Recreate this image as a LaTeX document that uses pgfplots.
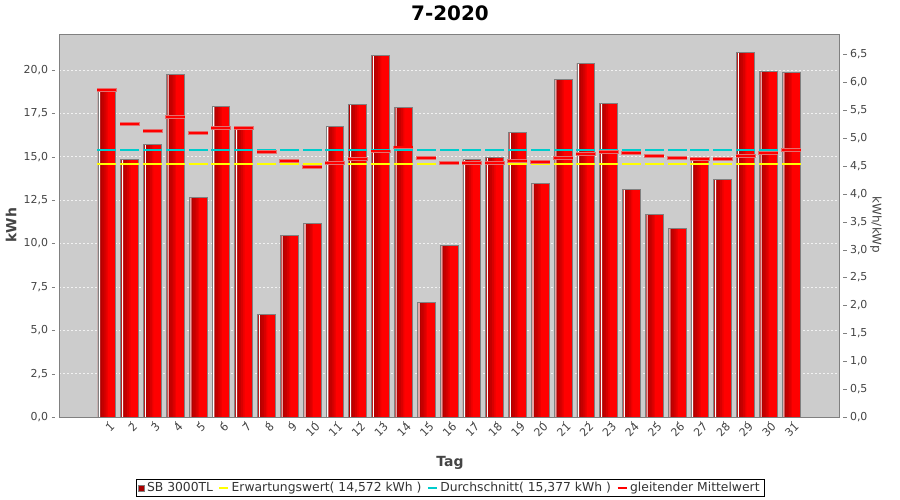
\documentclass[border=0pt]{standalone}
\usepackage{fontspec}
\setmainfont{DejaVu Sans}
\usepackage{pgfplots}
\pgfplotsset{compat=1.18}
\usepackage{pgfplotstable}

\definecolor{bggray}{HTML}{CCCCCC}
\definecolor{framegray}{HTML}{808080}
\definecolor{labelgray}{HTML}{444444}
\definecolor{legtext}{HTML}{333333}
\definecolor{legred}{HTML}{AA0000}
\definecolor{avgyellow}{HTML}{FFFF00}
\definecolor{avgcyan}{HTML}{00CCCC}
\definecolor{redA}{HTML}{B20000}
\definecolor{redB}{HTML}{C40000}
\definecolor{redC}{HTML}{D80000}
\definecolor{redD}{HTML}{EC0000}
\definecolor{redE}{HTML}{FF0000}

% day, yield (kWh), moving average (kWh), expected, mean
\pgfplotstableread{
day kwh   ma    soll   mean
1   18.83 18.83 14.572 15.377
2   14.83 16.87 14.572 15.377
3   15.72 16.47 14.572 15.377
4   19.75 17.27 14.572 15.377
5   12.66 16.35 14.572 15.377
6   17.89 16.64 14.572 15.377
7   16.56 16.64 14.572 15.377
8   5.90  15.26 14.572 15.377
9   10.47 14.74 14.572 15.377
10  11.16 14.41 14.572 15.377
11  16.73 14.62 14.572 15.377
12  18.00 14.87 14.572 15.377
13  20.83 15.31 14.572 15.377
14  17.83 15.54 14.572 15.377
15  6.60  14.93 14.572 15.377
16  9.86  14.62 14.572 15.377
17  14.85 14.62 14.572 15.377
18  14.97 14.63 14.572 15.377
19  16.41 14.74 14.572 15.377
20  13.45 14.68 14.572 15.377
21  19.46 14.93 14.572 15.377
22  20.38 15.16 14.572 15.377
23  18.08 15.26 14.572 15.377
24  13.10 15.20 14.572 15.377
25  11.68 15.03 14.572 15.377
26  10.87 14.93 14.572 15.377
27  14.91 14.87 14.572 15.377
28  13.70 14.86 14.572 15.377
29  21.00 15.04 14.572 15.377
30  19.92 15.22 14.572 15.377
31  19.87 15.37 14.572 15.377
}\daten

\begin{document}
\begin{tikzpicture}
\path[use as bounding box] (0bp,0bp) rectangle (900bp,500bp);

\pgfplotsset{
  every axis/.append style={
    at={(59bp,83bp)}, anchor=south west,
    width=780bp, height=383bp, scale only axis,
    xmin=-1.1, xmax=33.1,
    tick align=outside, major tick length=3.5bp,
    /pgf/number format/assume math mode=true,
    ticklabel style={font=\fontsize{11}{13}\selectfont, text=labelgray},
  },
  redlayer/.style={ybar, draw=none, forget plot},
}

% left axis: kWh
\begin{axis}[
  ymin=0, ymax=22.07,
  axis background/.style={fill=bggray},
  axis line style={draw=framegray, line width=0.8bp},
  xtick={1,...,31}, xtick pos=bottom,
  ytick={0,2.5,5,7.5,10,12.5,15,17.5,20}, ytick pos=left,
  yticklabel={\pgfmathprintnumber[fixed,fixed zerofill,precision=1,use comma]{\tick}},
  xtick style={draw=framegray, yshift=-4bp},
  ytick style={draw=framegray, xshift=-4bp},
  yticklabel style={xshift=-4bp},
  xticklabel style={rotate=45, anchor=east, yshift=-7bp, xshift=2bp, inner sep=1bp},
  ymajorgrids,
  grid style={white!75!bggray, line width=0.5bp, dash pattern=on 2bp off 2bp},
  legend columns=4,
  legend style={at={(rel axis cs:0.5013,-0.1854)}, anchor=center,
    draw=black, line width=0.8bp, inner xsep=2bp, inner ysep=1bp,
    font=\fontsize{12.4}{14}\selectfont, text=legtext,
    nodes={inner xsep=2.5bp},
    /tikz/every even column/.append style={column sep=3bp}},
]

% bars: layered fills give a dark-to-bright gradient on every bar
\addplot[ybar, bar width=17.8bp, fill=redA, draw=none,
  legend image code/.code={\draw[fill=legred, draw=framegray, line width=0.6bp] (0bp,-3bp) rectangle (6bp,3bp);}]
  table[x=day, y=kwh] {\daten};
\addlegendentry{SB 3000TL}
\addplot[redlayer, bar width=14bp, bar shift=1.9bp, fill=redB] table[x=day, y=kwh] {\daten};
\addplot[redlayer, bar width=11.5bp, bar shift=3.15bp, fill=redC] table[x=day, y=kwh] {\daten};
\addplot[redlayer, bar width=9.5bp, bar shift=4.15bp, fill=redD] table[x=day, y=kwh] {\daten};
\addplot[redlayer, bar width=8bp, bar shift=4.9bp, fill=redE] table[x=day, y=kwh] {\daten};
\addplot[redlayer, bar width=1.1bp, bar shift=-7.2bp, fill=white] table[x=day, y=kwh] {\daten};
\addplot[ybar, bar width=17.8bp, fill=none, draw=framegray, line width=0.8bp, forget plot]
  table[x=day, y=kwh] {\daten};

\addplot[only marks, mark=-, mark size=9.5bp, mark options={draw=avgyellow, line width=1.3bp},
  legend image code/.code={\draw[avgyellow, line width=1.5bp] (0bp,0bp) -- (9bp,0bp);}]
  table[x=day, y=soll] {\daten};
\addlegendentry{Erwartungswert( 14,572 kWh )}

\addplot[only marks, mark=-, mark size=9.5bp, mark options={draw=avgcyan, line width=1.3bp},
  legend image code/.code={\draw[avgcyan, line width=1.8bp] (0bp,0bp) -- (9bp,0bp);}]
  table[x=day, y=mean] {\daten};
\addlegendentry{Durchschnitt( 15,377 kWh )}

\addplot[only marks, mark=-, mark size=10bp, mark options={draw=red!45!bggray, line width=3.6bp}, forget plot]
  table[x=day, y=ma] {\daten};
\addplot[only marks, mark=-, mark size=9.5bp, mark options={draw=red, line width=2bp},
  legend image code/.code={\draw[red, line width=2.2bp] (0bp,0bp) -- (9bp,0bp);}]
  table[x=day, y=ma] {\daten};
\addlegendentry{gleitender Mittelwert}

\draw[framegray, line width=0.8bp] ([xshift=-4bp]rel axis cs:0,0) -- ([xshift=-4bp]rel axis cs:0,1);
\draw[framegray, line width=0.8bp] ([yshift=-4bp]rel axis cs:0,0) -- ([yshift=-4bp]rel axis cs:1,0);
\end{axis}

% right axis: kWh/kWp
\begin{axis}[
  ymin=0, ymax=6.864,
  axis x line=none, axis y line*=right,
  y axis line style={draw=none},
  ytick={0,0.5,1,1.5,2,2.5,3,3.5,4,4.5,5,5.5,6,6.5},
  yticklabel={\pgfmathprintnumber[fixed,fixed zerofill,precision=1,use comma]{\tick}},
  ytick style={draw=framegray, xshift=4bp},
  yticklabel style={xshift=4bp},
]
\draw[framegray, line width=0.8bp] ([xshift=4bp]rel axis cs:1,0) -- ([xshift=4bp]rel axis cs:1,1);
\end{axis}

\node[font=\bfseries\fontsize{20}{24}\selectfont] at (450bp,487bp) {7-2020};
\node[rotate=90, font=\bfseries\fontsize{14}{16}\selectfont, text=labelgray] at (11bp,275bp) {kWh};
\node[font=\bfseries\fontsize{14}{16}\selectfont, text=labelgray] at (450bp,37bp) {Tag};
\node[rotate=-90, font=\fontsize{12}{14}\selectfont, text=labelgray] at (876bp,275bp) {kWh/kWp};
\end{tikzpicture}
\end{document}
